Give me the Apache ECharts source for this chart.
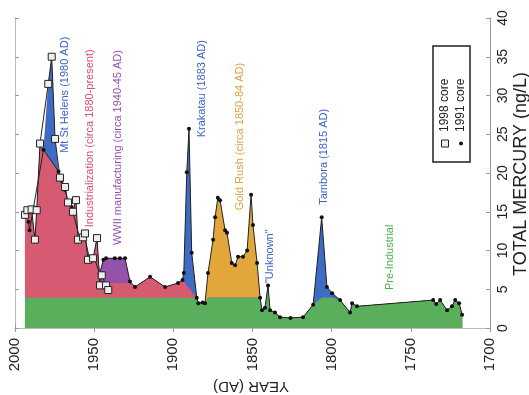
<!DOCTYPE html>
<html>
<head>
<meta charset="utf-8">
<script src="https://cdn.jsdelivr.net/npm/echarts@6/dist/echarts.min.js"></script>
<style>
  html, body { margin: 0; padding: 0; background: #fff; }
  #chart { width: 529px; height: 395px; }
</style>
</head>
<body>
<div id="chart"></div>
<script>
// year (AD), total mercury (ng/L)
const core1998 = [
  [1993.7, 14.6], [1992.2, 15.2], [1989.5, 15.3], [1987.4, 11.4], [1986.3, 15.2],
  [1984.2, 23.8], [1979.0, 31.5], [1976.8, 35.0], [1974.7, 24.4], [1971.6, 19.4],
  [1968.4, 18.2], [1966.5, 16.2], [1963.4, 15.0], [1961.5, 16.5], [1960.2, 11.4],
  [1957.0, 11.7], [1955.8, 12.2], [1953.9, 8.8], [1950.7, 9.0], [1948.2, 11.6],
  [1946.3, 5.5], [1945.2, 6.8], [1942.5, 5.5], [1941.1, 4.9]
]
const core1991 = [
  [1991.5, 13.7], [1990.8, 12.6], [1982.0, 23.0], [1972.5, 20.2], [1970.5, 19.0],
  [1968.4, 17.8], [1966.3, 16.1], [1964.2, 15.6], [1958.9, 11.4], [1955.8, 11.7],
  [1952.6, 8.5], [1949.5, 8.8], [1946.6, 7.0], [1944.2, 8.8], [1942.5, 9.0],
  [1937.0, 9.0], [1933.7, 9.0], [1930.5, 9.0], [1927.4, 6.0], [1924.2, 5.3],
  [1914.7, 6.6], [1905.2, 5.3], [1897.0, 5.8], [1894.2, 6.2], [1893.4, 7.1],
  [1891.5, 20.1], [1890.1, 25.7], [1888.4, 9.7], [1885.2, 3.9], [1884.2, 3.2],
  [1881.5, 3.3], [1880.0, 3.2], [1878.1, 7.1], [1874.9, 11.4], [1873.6, 14.3],
  [1871.9, 16.8], [1870.5, 16.5], [1867.3, 12.6], [1866.1, 12.3], [1863.1, 8.4],
  [1861.0, 8.1], [1859.1, 9.2], [1856.0, 9.2], [1853.4, 10.0], [1850.9, 17.2],
  [1849.7, 13.3], [1847.1, 8.4], [1845.2, 3.9], [1844.0, 2.3], [1842.1, 2.6],
  [1840.2, 5.5], [1838.9, 2.3], [1835.8, 2.0], [1832.6, 1.4], [1826.0, 1.3],
  [1818.1, 1.4], [1811.7, 3.0], [1806.3, 14.3], [1803.0, 5.3], [1799.7, 4.5],
  [1794.7, 3.6], [1788.4, 2.0], [1787.1, 3.2], [1784.0, 2.8], [1735.9, 3.6],
  [1734.0, 3.1], [1731.5, 3.6], [1727.1, 2.3], [1724.0, 2.8], [1722.0, 3.6],
  [1719.5, 3.2], [1717.6, 1.7]
]

// band edges of the coloured episodes
const baseLevel = 3.9
const coreSwitchYear = 1947
const industrialEnd = 1885.2
const stHelensEdge = [[1982.0, 23.0], [1972.5, 20.2]]
const wwiiSpan = [1944.5, 1927.4]
const wwiiFloor = 5.8
const krakatauEdge = [[1894.2, 6.2], [1885.2, 3.9]]
const goldSpan = [1878.5, 1845.2]
const tamboraSpan = [1812.0, 1794.7]

const annotations = [
  { text: 'Mt St Helens (1980 AD)', at: [1968.4, 22.6], color: '#3b63c0' },
  { text: 'Industrialization (circa 1880-present)', at: [1952.6, 13.0], color: '#d6506c' },
  { text: 'WWII manufacturing (circa 1940-45 AD)', at: [1934.9, 10.7], color: '#9650b0' },
  { text: 'Krakatau (1883 AD)', at: [1881.9, 24.6], color: '#3b63c0' },
  { text: 'Gold Rush (circa 1850-84 AD)', at: [1857.9, 15.2], color: '#e0a43a' },
  { text: '"Unknown"', at: [1838.9, 5.8], color: '#3b63c0' },
  { text: 'Tambora (1815 AD)', at: [1804.8, 15.9], color: '#3b63c0' },
  { text: 'Pre-Industrial', at: [1763.0, 4.9], color: '#4caf50' }
]

const colors = {
  green: '#5aaf5d',
  pink: '#d65a72',
  purple: '#9452ad',
  blue: '#3e6cc4',
  orange: '#e2a63b'
}
const layerOrder = ['green', 'pink', 'purple', 'blue', 'orange']

const interp = (edge, year) => {
  const [[y0, v0], [y1, v1]] = edge
  return v0 + (v1 - v0) * (y0 - year) / (y0 - y1)
}
const within = (span, year) => year <= span[0] && year >= span[1]

// fill profile: newer core for recent years, older core before that
const profile = core1998.filter(d => d[0] >= coreSwitchYear)
  .concat(stHelensEdge)
  .concat(core1991.filter(d => d[0] < coreSwitchYear))
  .sort((a, b) => b[0] - a[0])

// cumulative top of every coloured band
const tops = {}
layerOrder.forEach(k => { tops[k] = [] })
profile.forEach(([year, v]) => {
  const part = { green: v, pink: 0, purple: 0, blue: 0, orange: 0 }
  const industrial = year >= industrialEnd
  const gold = within(goldSpan, year)
  const tambora = within(tamboraSpan, year)
  if (industrial || gold || tambora) {
    part.green = Math.min(v, baseLevel)
    const rest = v - part.green
    if (industrial) {
      if (year <= stHelensEdge[0][0] && year >= stHelensEdge[1][0]) {
        const low = interp(stHelensEdge, year)
        part.pink = low - baseLevel
        part.blue = Math.max(v - low, 0)
      } else if (within(wwiiSpan, year)) {
        part.pink = Math.max(Math.min(v, wwiiFloor) - baseLevel, 0)
        part.purple = Math.max(v - wwiiFloor, 0)
      } else if (year <= krakatauEdge[0][0]) {
        const low = Math.max(interp(krakatauEdge, year), baseLevel)
        part.pink = low - baseLevel
        part.blue = Math.max(v - low, 0)
      } else {
        part.pink = rest
      }
    } else if (gold) {
      part.orange = rest
    } else {
      part.blue = rest
    }
  }
  let sum = 0
  layerOrder.forEach(k => {
    sum += part[k]
    tops[k].push([year, sum])
  })
})

// highest band first, lower bands painted over it
const areaSeries = layerOrder.slice().reverse().map(k => ({
  name: k,
  type: 'line',
  data: tops[k],
  symbol: 'none',
  silent: true,
  lineStyle: { width: 0 },
  areaStyle: { color: colors[k], opacity: 1, origin: 'start' },
  z: 1
}))

const axisColor = '#999'
const fontFamily = '"Liberation Sans", Arial, sans-serif'

const chart = echarts.init(document.getElementById('chart'))
chart.setOption({
  animation: false,
  textStyle: { fontFamily },
  grid: { left: 15, right: 39, top: 18, bottom: 67 },
  xAxis: [
    {
      type: 'value', min: 1700, max: 2000, interval: 50, inverse: true,
      axisLine: { lineStyle: { color: axisColor } },
      axisTick: { inside: true, length: 4, lineStyle: { color: axisColor } },
      splitLine: { show: false },
      axisLabel: { rotate: 90, fontSize: 15, color: '#222', margin: 10, formatter: v => String(v) }
    },
    {
      type: 'value', position: 'top', min: 1700, max: 2000, interval: 50, inverse: true,
      axisLine: { lineStyle: { color: '#bbb' } },
      axisTick: { inside: true, length: 4, lineStyle: { color: axisColor } },
      splitLine: { show: false },
      axisLabel: { show: false }
    }
  ],
  yAxis: [
    {
      type: 'value', position: 'right', min: 0, max: 40, interval: 5,
      axisLine: { show: true, lineStyle: { color: axisColor } },
      axisTick: { show: true, inside: true, length: 4, lineStyle: { color: axisColor } },
      splitLine: { show: false },
      axisLabel: { rotate: 90, fontSize: 14, color: '#222', margin: 6 }
    },
    {
      type: 'value', position: 'left', min: 0, max: 40, interval: 5,
      axisLine: { show: true, lineStyle: { color: '#bbb' } },
      axisTick: { show: true, inside: true, length: 4, lineStyle: { color: axisColor } },
      splitLine: { show: false },
      axisLabel: { show: false }
    }
  ],
  series: areaSeries.concat([
    {
      name: '1991 core',
      type: 'line',
      data: core1991,
      symbol: 'circle',
      symbolSize: 4,
      itemStyle: { color: '#111' },
      lineStyle: { color: '#222', width: 1 },
      z: 3
    },
    {
      name: '1998 core',
      type: 'line',
      data: core1998,
      symbol: 'rect',
      symbolSize: 7,
      itemStyle: { color: '#eee', borderColor: '#222', borderWidth: 1 },
      lineStyle: { color: '#222', width: 1 },
      z: 4
    }
  ])
})

const graphics = annotations.map(a => {
  const [px, py] = chart.convertToPixel({ gridIndex: 0 }, a.at)
  return {
    type: 'text', x: px, y: py, rotation: Math.PI / 2, z: 10,
    style: { text: a.text, fill: a.color, font: '11px ' + fontFamily, align: 'left', verticalAlign: 'middle' }
  }
})

graphics.push(
  {
    type: 'text', x: 251, y: 386, rotation: Math.PI, z: 10,
    style: { text: 'YEAR (AD)', fill: '#222', font: '15px ' + fontFamily, align: 'center', verticalAlign: 'middle' }
  },
  {
    type: 'text', x: 521, y: 174, rotation: Math.PI / 2, z: 10,
    style: { text: 'TOTAL MERCURY (ng/L)', fill: '#222', font: '18px ' + fontFamily, align: 'center', verticalAlign: 'middle' }
  },
  {
    type: 'rect', z: 10,
    shape: { x: 433, y: 46, width: 37, height: 116 },
    style: { fill: '#fff', stroke: '#222', lineWidth: 1.5 }
  },
  {
    type: 'rect', z: 11,
    shape: { x: 441.5, y: 140, width: 7, height: 7 },
    style: { fill: '#eee', stroke: '#222', lineWidth: 1 }
  },
  {
    type: 'circle', z: 11,
    shape: { cx: 461, cy: 143.5, r: 2 },
    style: { fill: '#111' }
  },
  {
    type: 'text', x: 445, y: 132, rotation: Math.PI / 2, z: 11,
    style: { text: '1998 core', fill: '#222', font: '12px ' + fontFamily, align: 'left', verticalAlign: 'middle' }
  },
  {
    type: 'text', x: 461, y: 132, rotation: Math.PI / 2, z: 11,
    style: { text: '1991 core', fill: '#222', font: '12px ' + fontFamily, align: 'left', verticalAlign: 'middle' }
  }
)

chart.setOption({ graphic: graphics })

window.addEventListener('resize', () => chart.resize())
</script>
</body>
</html>
